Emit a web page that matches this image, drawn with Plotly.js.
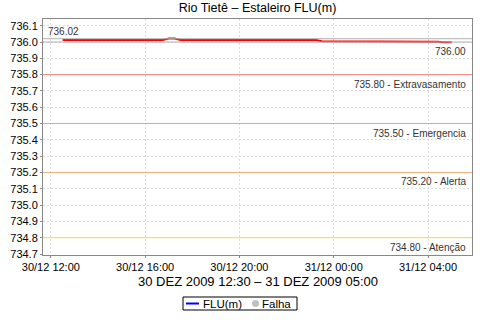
<!DOCTYPE html>
<html><head><meta charset="utf-8">
<script src="https://cdn.plot.ly/plotly-3.0.1.min.js"></script>
<style>html,body{margin:0;padding:0;background:#fff}#chart{width:480px;height:320px}</style>
</head><body><div id="chart"></div>
<script>
// data
const times = ["2009-12-30 12:30","2009-12-30 16:45","2009-12-30 17:00","2009-12-30 17:15","2009-12-30 17:30","2009-12-30 23:15","2009-12-30 23:30","2009-12-31 01:50","2009-12-31 02:05","2009-12-31 04:25","2009-12-31 04:40","2009-12-31 05:00"];
const levels = [736.012,736.012,736.021,736.021,736.012,736.012,736.005,736.005,736.002,736.002,735.998,735.998];
const thresholdValues = [735.80, 735.50, 735.20, 734.80];
const thresholdNames = ["Extravasamento","Emergencia","Alerta","Atenção"];
const thresholdColors = ["#ff8080","#e090e8","#f0b080","#f0e050"];
const maxValue = 736.02, minValue = 736.00;
const xTicks = ["2009-12-30 12:00","2009-12-30 16:00","2009-12-30 20:00","2009-12-31 00:00","2009-12-31 04:00"];
const xTickText = ["30/12 12:00","30/12 16:00","30/12 20:00","31/12 00:00","31/12 04:00"];
const seriesNames = ["FLU(m)","Falha"];
const seriesLegendColors = ["#0000ff","#c0c0c0"];

const font = "Liberation Sans, Arial, sans-serif";
// plot area in pixels: left 43, right 472, top 19, bottom 255
const PL=43, PR=472, PT=19, PB=255;
const px = v => (v-PL)/(PR-PL);
const py = v => (PB-v)/(PB-PT);

const shapes = thresholdValues.map((v,i)=>({type:'line',xref:'paper',x0:0,x1:1,yref:'y',y0:v,y1:v,line:{color:thresholdColors[i],width:1}}));
shapes.push({type:'line',xref:'paper',x0:0,x1:1,yref:'y',y0:maxValue,y1:maxValue,line:{color:'#b0b0b0',width:1}});
shapes.push({type:'line',xref:'paper',x0:0,x1:1,yref:'y',y0:minValue,y1:minValue,line:{color:'#b0b0b0',width:1}});
// legend box
shapes.push({type:'rect',xref:'paper',yref:'paper',x0:px(183),x1:px(297),y0:py(297),y1:py(310),line:{color:'#000',width:1},fillcolor:'rgba(0,0,0,0)'});
shapes.push({type:'line',xref:'paper',yref:'paper',x0:px(186),x1:px(199),y0:py(303.5),y1:py(303.5),line:{color:seriesLegendColors[0],width:2}});
shapes.push({type:'circle',xref:'paper',yref:'paper',x0:px(252),x1:px(259),y0:py(300),y1:py(307),line:{color:seriesLegendColors[1],width:0},fillcolor:seriesLegendColors[1]});

const annotations = thresholdValues.map((v,i)=>({xref:'paper',x:0.99,yref:'y',y:v,text:v.toFixed(2)+' - '+thresholdNames[i],showarrow:false,xanchor:'right',yanchor:'top',yshift:-2,font:{family:font,size:10,color:'#333'}}));
annotations.push({xref:'paper',x:0.007,yref:'y',y:maxValue,text:maxValue.toFixed(2),showarrow:false,xanchor:'left',yanchor:'bottom',yshift:0,font:{family:font,size:10,color:'#333'}});
annotations.push({xref:'paper',x:0.99,yref:'y',y:minValue,text:minValue.toFixed(2),showarrow:false,xanchor:'right',yanchor:'top',yshift:-2,font:{family:font,size:10,color:'#333'}});
annotations.push({xref:'paper',yref:'paper',x:0.5,y:py(281),xanchor:'center',yanchor:'middle',showarrow:false,text:'30 DEZ 2009 12:30 – 31 DEZ 2009 05:00',font:{family:font,size:13,color:'#000'}});
annotations.push({xref:'paper',yref:'paper',x:px(202),y:py(303.5),xanchor:'left',yanchor:'middle',showarrow:false,text:seriesNames[0],font:{family:font,size:11.5,color:'#000'},borderpad:0});
annotations.push({xref:'paper',yref:'paper',x:px(261),y:py(303.5),xanchor:'left',yanchor:'middle',showarrow:false,text:seriesNames[1],font:{family:font,size:11.5,color:'#000'},borderpad:0});

const traces = [
 {x:times,y:levels,type:'scatter',mode:'lines',line:{color:'#ff0000',width:2},showlegend:false,hoverinfo:'skip',name:seriesNames[0]}
];
const layout = {
 width:480,height:320,margin:{l:PL,r:480-PR,t:PT,b:320-PB},
 paper_bgcolor:'#fff',plot_bgcolor:'#fff',
 font:{family:font,size:11,color:'#000'},
 title:{text:'Rio Tietê – Estaleiro FLU(m)',font:{family:font,size:12.5,color:'#000'},x:0.5,xref:'paper',y:0.99,yanchor:'top'},
 xaxis:{type:'date',range:["2009-12-30 11:40","2009-12-31 05:52"],tickvals:xTicks,ticktext:xTickText,
   showgrid:true,gridcolor:'#dcdcdc',griddash:'2px,2px',gridwidth:1,showline:true,linecolor:'#888',mirror:true,
   ticks:'outside',ticklen:2,tickcolor:'#888',tickfont:{family:font,size:11},zeroline:false,automargin:false},
 yaxis:{range:[734.694,736.141],tick0:734.7,dtick:0.1,tickformat:'.1f',
   showgrid:true,gridcolor:'#dcdcdc',griddash:'2px,2px',gridwidth:1,showline:true,linecolor:'#888',mirror:true,
   ticks:'outside',ticklen:2,tickcolor:'#888',tickfont:{family:font,size:11},zeroline:false,automargin:false},
 shapes:shapes,annotations:annotations,
 showlegend:false
};
Plotly.newPlot('chart',traces,layout,{staticPlot:true,displayModeBar:false});
</script></body></html>
